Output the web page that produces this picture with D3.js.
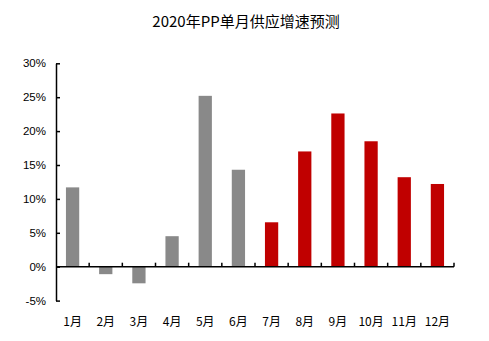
<!DOCTYPE html>
<html><head><meta charset="utf-8">
<script src="https://cdn.jsdelivr.net/npm/d3@7"></script>
<style>body{margin:0;background:#fff;}svg{display:block;}</style>
</head><body>
<script>
const categories = ["1月","2月","3月","4月","5月","6月","7月","8月","9月","10月","11月","12月"];
const values = [11.7,-1.1,-2.45,4.5,25.2,14.3,6.55,17.0,22.6,18.5,13.2,12.2];
const isForecast = [false,false,false,false,false,false,true,true,true,true,true,true];
const yTicks = [-5,0,5,10,15,20,25,30];
const title = "2020年PP单月供应增速预测";

const W = 489, H = 341;
const svg = d3.select("body").append("svg").attr("width", W).attr("height", H);
const x = d3.scaleBand().domain(categories).range([56, 454]).paddingInner(0.6).paddingOuter(0.3);
const y = d3.scaleLinear().domain([-5, 30]).range([300.6, 63.3]);

svg.append("text").attr("x", 246).attr("y", 27).attr("text-anchor", "middle")
  .attr("font-family", "'Noto Sans CJK SC'").attr("font-size", 15).attr("fill", "#000").text(title);

svg.selectAll("rect.bar").data(values).enter().append("rect")
  .attr("x", (d, i) => x(categories[i]))
  .attr("width", x.bandwidth())
  .attr("y", d => y(Math.max(0, d)))
  .attr("height", d => Math.abs(y(d) - y(0)))
  .attr("fill", (d, i) => isForecast[i] ? "#C00000" : "#898989");

// y axis
const yAxis = d3.axisLeft(y).tickValues(yTicks).tickFormat(d => d + "%").tickSizeInner(-4).tickSizeOuter(0).tickPadding(10);
const gy = svg.append("g").attr("transform", "translate(56,0)").call(yAxis);
gy.select(".domain").attr("stroke", "#000").attr("stroke-width", 1.5);
gy.selectAll("line").attr("stroke", "#000").attr("stroke-width", 1.5);
gy.selectAll("text").attr("font-family", "'Liberation Sans', Arial").attr("font-size", 11.5).attr("fill", "#000");

// x axis at zero
const bounds = d3.range(13).map(i => 56 + i * (454 - 56) / 12);
const gx = svg.append("g");
gx.append("line").attr("x1", 56).attr("x2", 454).attr("y1", y(0)).attr("y2", y(0)).attr("stroke", "#000").attr("stroke-width", 1.5);
gx.selectAll("line.tick").data(bounds.slice(1)).enter().append("line")
  .attr("x1", d => d).attr("x2", d => d).attr("y1", y(0)).attr("y2", y(0) - 4)
  .attr("stroke", "#000").attr("stroke-width", 1.5);
gx.selectAll("text").data(categories).enter().append("text")
  .attr("x", d => x(d) + x.bandwidth() / 2).attr("y", 326).attr("text-anchor", "middle")
  .attr("font-family", "'Noto Sans CJK SC'").attr("font-size", 12).attr("fill", "#000").text(d => d);
</script>
</body></html>
